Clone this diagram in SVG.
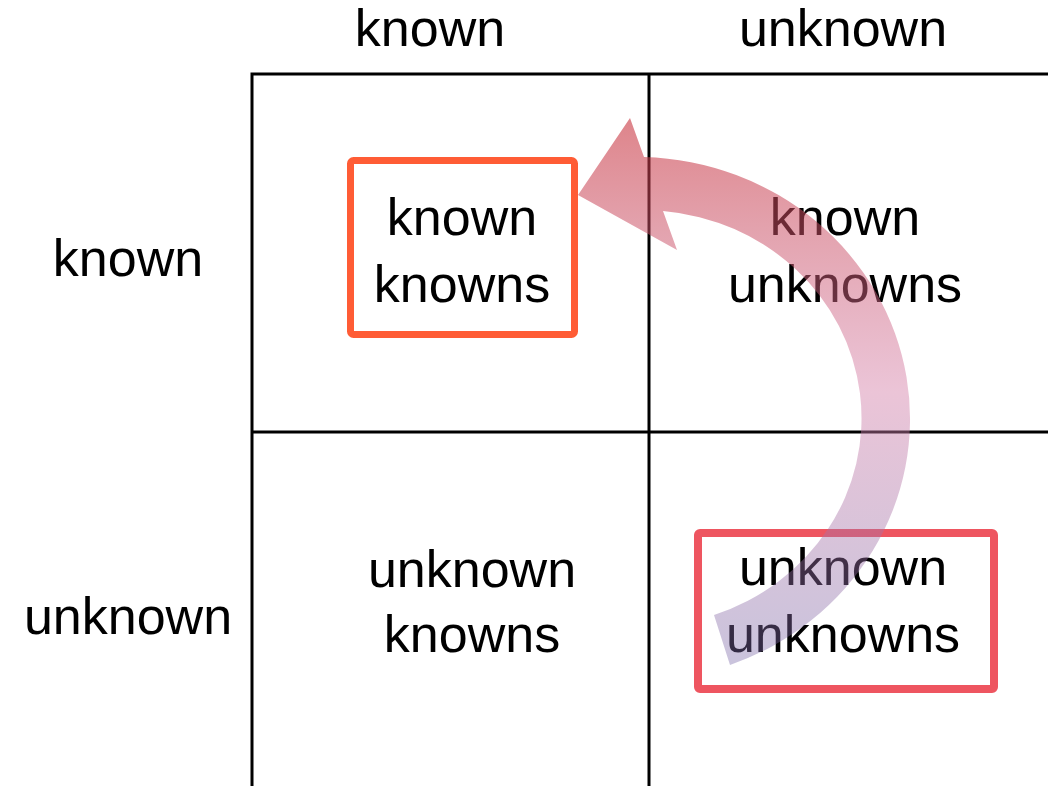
<svg xmlns="http://www.w3.org/2000/svg" width="1048" height="786" viewBox="0 0 1048 786">
<style>
.t{font-family:"Liberation Sans",Arial,sans-serif;font-size:52px;fill:#000;text-anchor:middle}
.grid{stroke:#000;stroke-width:3;fill:none}
</style>
<defs>
<linearGradient id="ag" gradientUnits="userSpaceOnUse" x1="0" y1="118" x2="0" y2="665">
<stop offset="0" stop-color="#C8323C" stop-opacity="0.6"/>
<stop offset="0.2" stop-color="#CA4F64" stop-opacity="0.53"/>
<stop offset="0.5" stop-color="#D47FA8" stop-opacity="0.46"/>
<stop offset="1" stop-color="#7969A8" stop-opacity="0.4"/>
</linearGradient>
</defs>
<rect width="1048" height="786" fill="#fff"/>
<g id="grid">
<path class="grid" d="M252,786 V74 H1050 M649,74 V786 M252,432 H1050"/>
</g>
<g id="header">
<text class="t" x="430" y="46">known</text>
<text class="t" x="843" y="46">unknown</text>
<text class="t" x="128" y="276">known</text>
<text class="t" x="128" y="634">unknown</text>
</g>
<g id="known-knowns">
<rect x="350.5" y="160.5" width="224" height="174" rx="3" fill="none" stroke="#FF5C35" stroke-width="7"/>
<text class="t" x="462" y="235">known</text>
<text class="t" x="462" y="302">knowns</text>
</g>
<g id="known-unknowns">
<text class="t" x="845" y="235">known</text>
<text class="t" x="845" y="302">unknowns</text>
</g>
<g id="unknown-knowns">
<text class="t" x="472" y="587">unknown</text>
<text class="t" x="472" y="652">knowns</text>
</g>
<g id="unknown-unknowns">
<rect x="698" y="533" width="296" height="156" rx="2" fill="none" stroke="#EE5560" stroke-width="8"/>
<text class="t" x="843" y="585">unknown</text>
<text class="t" x="843" y="652">unknowns</text>
</g>
<g id="connectors">
<path d="M730,665 A274,262 0 0 0 644,157 L630,118 L578,195 L677,250 L663,211 A218,208 0 0 1 714,615 Z" fill="url(#ag)"/>
</g>
</svg>
